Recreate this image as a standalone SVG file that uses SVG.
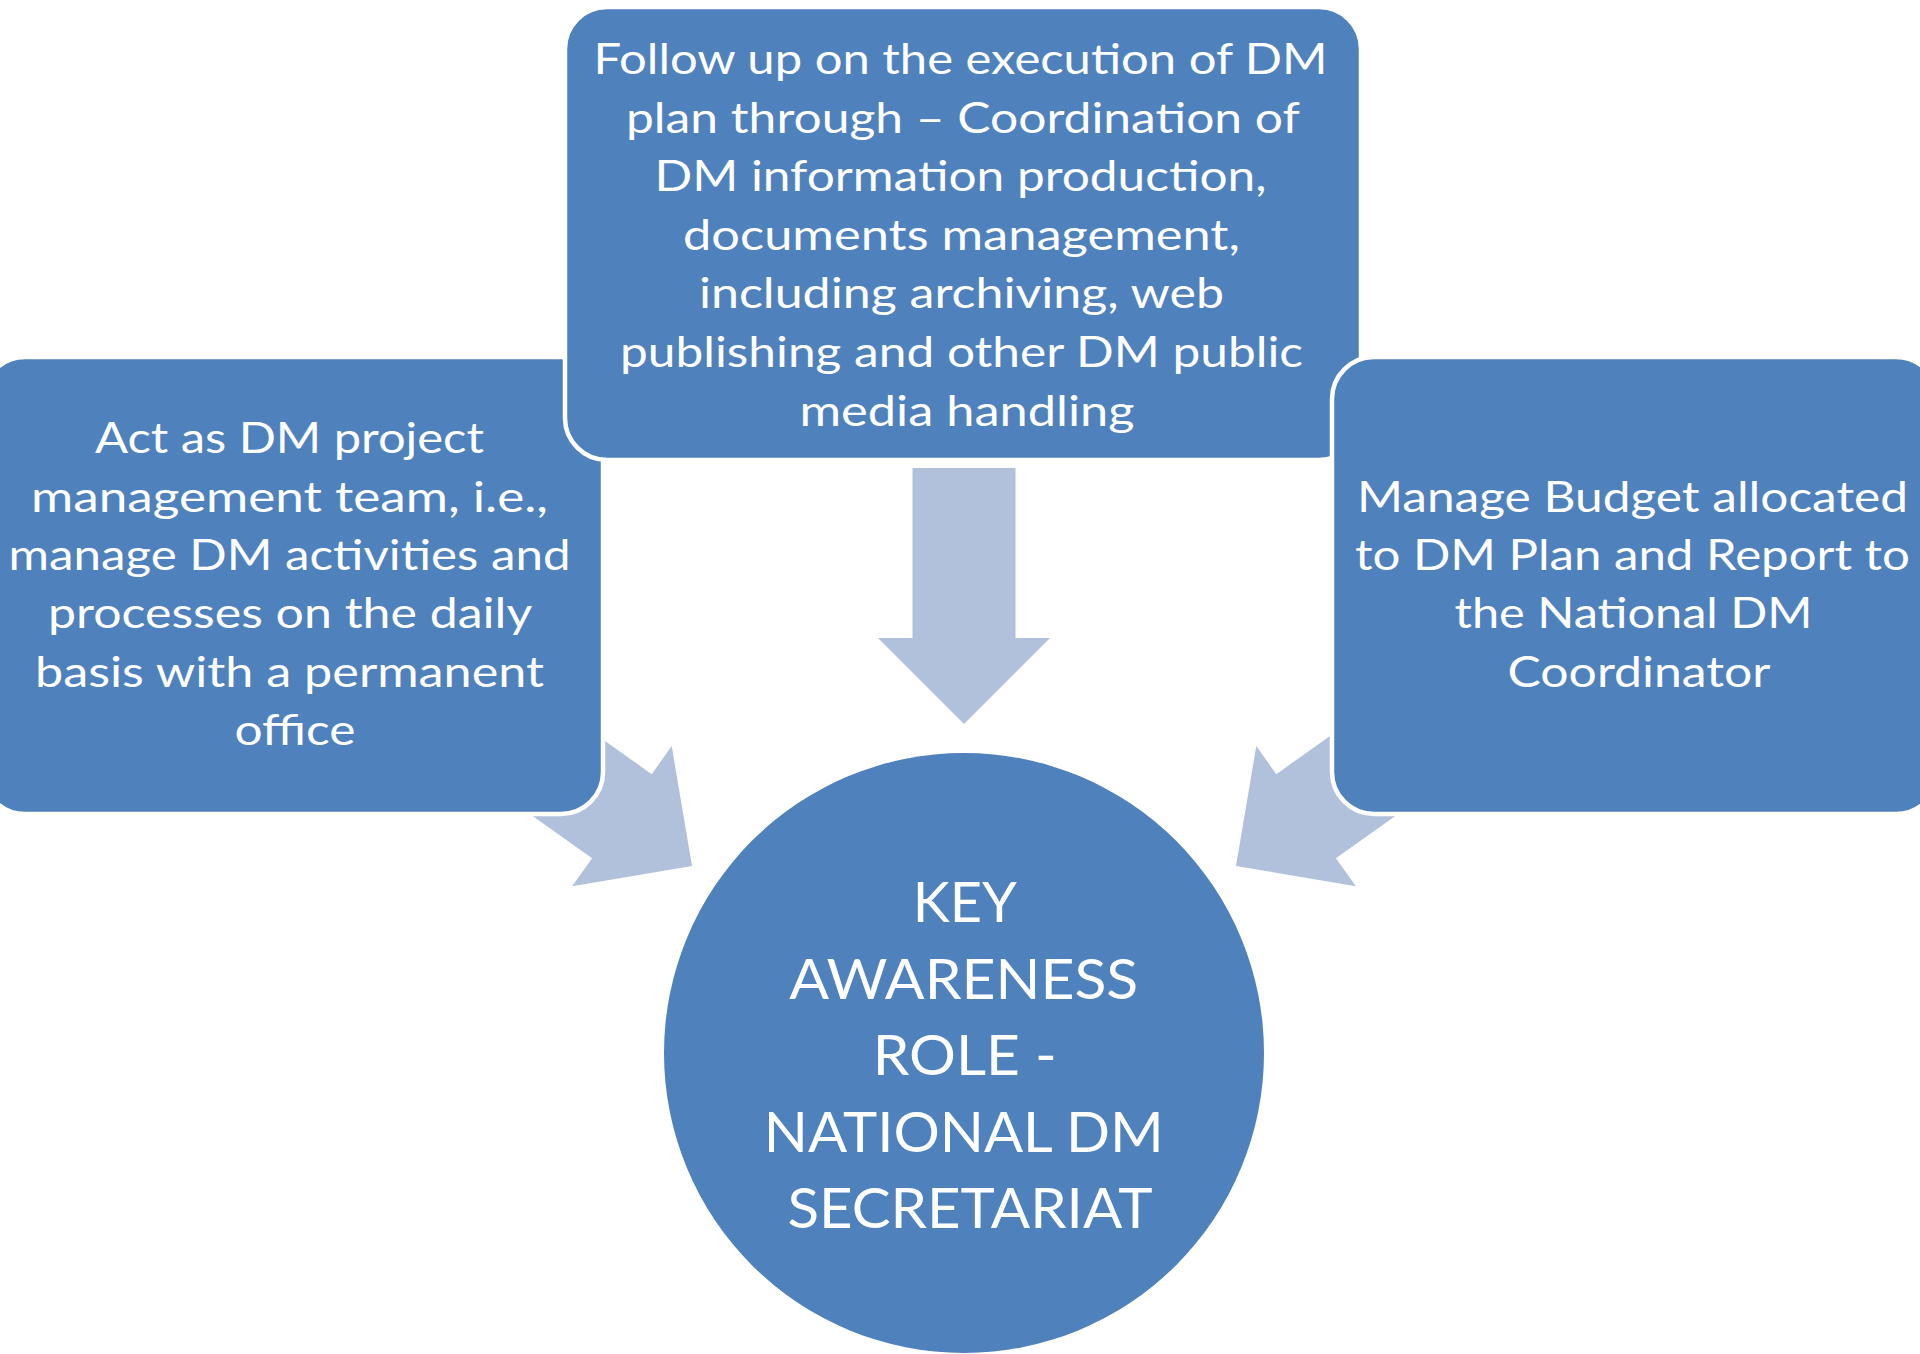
<svg xmlns="http://www.w3.org/2000/svg" width="1920" height="1354" viewBox="0 0 1920 1354">
  <defs>
    <style>
      .box { fill: #4F81BD; stroke: #FFFFFF; stroke-width: 4.5; }
      .hub { fill: #4F81BD; }
      .arrow { fill: #B2C1DB; }
      .lbl { font-family: Lato, "Open Sans", "Liberation Sans", sans-serif; font-size: 43px; fill: #FFFFFF; text-anchor: middle; }
      .hubtxt { font-family: Lato, "Open Sans", "Liberation Sans", sans-serif; font-size: 57px; fill: #FFFFFF; text-anchor: middle; }
    </style>
    <!-- block arrow, tip at origin, pointing down -->
    <path id="blockArrow" d="M -51.5 -256 L 51.5 -256 L 51.5 -86 L 86 -86 L 0 0 L -86 -86 L -51.5 -86 Z"/>
  </defs>

  <rect width="1920" height="1354" fill="#FFFFFF"/>

  <g id="connectors">
    <use href="#blockArrow" class="arrow" transform="translate(964 724)"/>
    <use href="#blockArrow" class="arrow" transform="translate(692 866) rotate(-54.6)"/>
    <use href="#blockArrow" class="arrow" transform="translate(1236 866) rotate(54.6)"/>
  </g>

  <g id="node-left">
    <rect class="box" x="-17" y="357" width="620" height="457" rx="42" ry="42"/>
    <text class="lbl">
      <tspan x="295" y="453" textLength="389" lengthAdjust="spacingAndGlyphs">Act as DM project</tspan>
      <tspan x="295" y="512" textLength="517" lengthAdjust="spacingAndGlyphs">management team, i.e.,</tspan>
      <tspan x="295" y="570" textLength="562" lengthAdjust="spacingAndGlyphs">manage DM activities and</tspan>
      <tspan x="295" y="628" textLength="483" lengthAdjust="spacingAndGlyphs">processes on the daily</tspan>
      <tspan x="295" y="687" textLength="509" lengthAdjust="spacingAndGlyphs">basis with a permanent</tspan>
      <tspan x="295" y="745" textLength="121" lengthAdjust="spacingAndGlyphs">office</tspan>
    </text>
  </g>

  <g id="node-top">
    <rect class="box" x="565" y="7" width="796" height="453" rx="42" ry="42"/>
    <text class="lbl">
      <tspan x="966" y="74" textLength="734" lengthAdjust="spacingAndGlyphs">Follow up on the execution of DM</tspan>
      <tspan x="968" y="132.6" textLength="673" lengthAdjust="spacingAndGlyphs">plan through – Coordination of</tspan>
      <tspan x="966" y="191.2" textLength="612" lengthAdjust="spacingAndGlyphs">DM information production,</tspan>
      <tspan x="967" y="249.8" textLength="557" lengthAdjust="spacingAndGlyphs">documents management,</tspan>
      <tspan x="967" y="308.4" textLength="525" lengthAdjust="spacingAndGlyphs">including archiving, web</tspan>
      <tspan x="967" y="367" textLength="683" lengthAdjust="spacingAndGlyphs">publishing and other DM public</tspan>
      <tspan x="967" y="425.6" textLength="335" lengthAdjust="spacingAndGlyphs">media handling</tspan>
    </text>
  </g>

  <g id="node-right">
    <rect class="box" x="1332" y="357" width="606" height="457" rx="42" ry="42"/>
    <text class="lbl">
      <tspan x="1638" y="512" textLength="551" lengthAdjust="spacingAndGlyphs">Manage Budget allocated</tspan>
      <tspan x="1638" y="570" textLength="555" lengthAdjust="spacingAndGlyphs">to DM Plan and Report to</tspan>
      <tspan x="1639" y="628" textLength="358" lengthAdjust="spacingAndGlyphs">the National DM</tspan>
      <tspan x="1639" y="687" textLength="263" lengthAdjust="spacingAndGlyphs">Coordinator</tspan>
    </text>
  </g>

  <g id="node-center">
    <circle class="hub" cx="964" cy="1053" r="300"/>
    <text class="hubtxt">
      <tspan x="971" y="922" textLength="102" lengthAdjust="spacingAndGlyphs">KEY</tspan>
      <tspan x="971" y="999" textLength="349" lengthAdjust="spacingAndGlyphs">AWARENESS</tspan>
      <tspan x="972" y="1075" textLength="184" lengthAdjust="spacingAndGlyphs">ROLE -</tspan>
      <tspan x="971" y="1152" textLength="400" lengthAdjust="spacingAndGlyphs">NATIONAL DM</tspan>
      <tspan x="970" y="1228" textLength="365" lengthAdjust="spacingAndGlyphs">SECRETARIAT</tspan>
    </text>
  </g>
</svg>
